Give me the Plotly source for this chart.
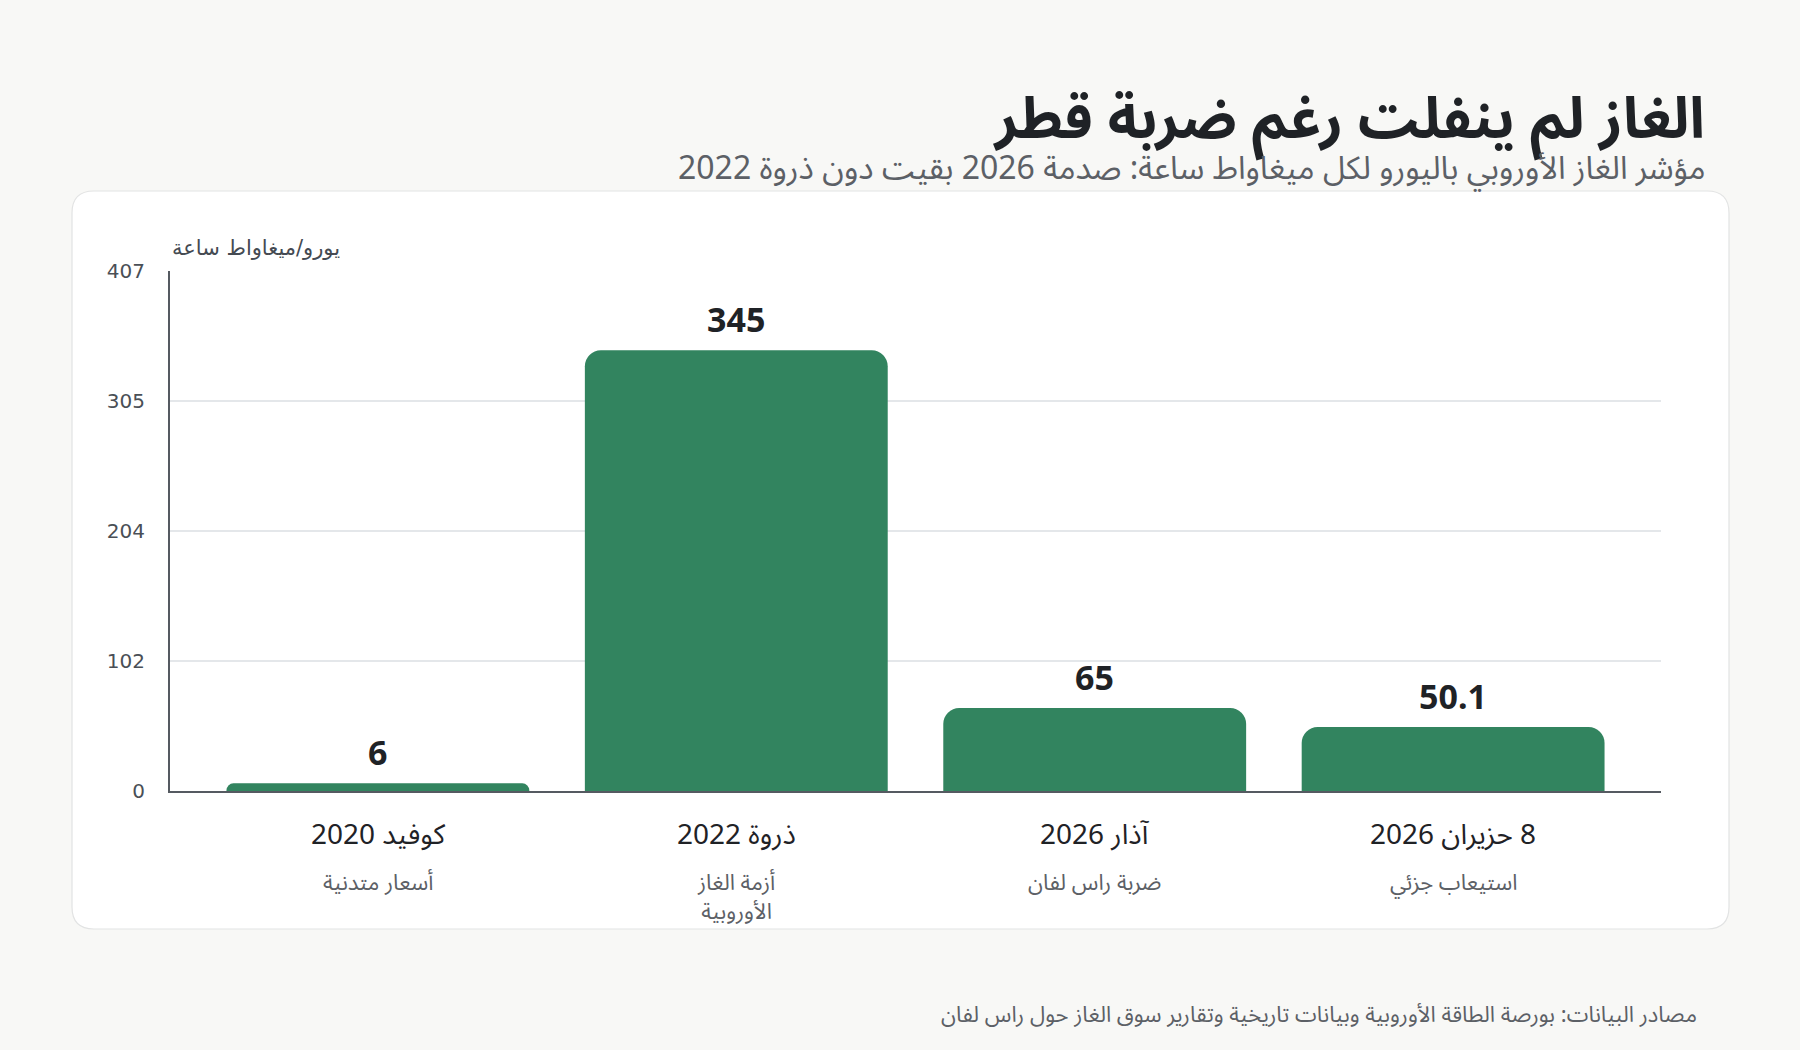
import plotly.graph_objects as go

# ---- data ----
categories = ["كوفيد 2020", "ذروة 2022", "آذار 2026", "\u200f8 حزيران 2026"]
sub_labels = ["أسعار متدنية", "أزمة الغاز<br>الأوروبية", "ضربة راس لفان", "استيعاب جزئي"]
values = [6, 345, 65, 50.1]
y_tickvals = [0, 101.75, 203.5, 305.25, 407]
y_ticktext = ["0", "102", "204", "305", "407"]
y_max = 407

title_text = "الغاز لم ينفلت رغم ضربة قطر"
subtitle_text = "مؤشر الغاز الأوروبي باليورو لكل ميغاواط ساعة: صدمة 2026 بقيت دون ذروة 2022"
y_title_text = "يورو/ميغاواط ساعة"
footer_text = "مصادر البيانات: بورصة الطاقة الأوروبية وبيانات تاريخية وتقارير سوق الغاز حول راس لفان"

# ---- layout geometry (pixels) ----
W, H = 1800, 1050
L, R, T, B = 170, 139, 271, 259
PW, PH = W - L - R, H - T - B

FONT = "Noto Sans Arabic, Noto Sans Arabic UI, Noto Sans, sans-serif"
DARK = "#1f2226"
GRAY = "#5c6066"
GREEN = "#32845f"
BG = "#f8f8f6"


def px_x(px):
    return (px - L) / PW


def px_y(py):
    return (H - B - py) / PH


fig = go.Figure()
fig.add_trace(go.Bar(
    x=categories,
    y=values,
    width=0.845,
    marker=dict(color=GREEN, line=dict(width=0)),
    hoverinfo="x+y",
))

annotations = []
# value labels
for c, v in zip(categories, values):
    annotations.append(dict(
        x=c, y=v, xref="x", yref="y", text=f"<b>{v:g}</b>", showarrow=False,
        yanchor="middle", yshift=31,
        font=dict(family="Noto Sans, sans-serif", size=34, color=DARK),
    ))
# category labels + sublabels
for c, s in zip(categories, sub_labels):
    annotations.append(dict(
        x=c, y=0, xref="x", yref="paper", text=c, showarrow=False,
        yanchor="middle", yshift=-44,
        font=dict(family=FONT, size=28, color=DARK),
    ))
    annotations.append(dict(
        x=c, y=0, xref="x", yref="paper", text=s, showarrow=False,
        yanchor="top", yshift=-67,
        font=dict(family=FONT, size=22, color=GRAY),
    ))
# titles
annotations += [
    dict(x=px_x(1707), y=px_y(120), xref="paper", yref="paper", text=f"<b>{title_text}</b>",
         showarrow=False, xanchor="right", yanchor="middle",
         font=dict(family=FONT, size=57, color=DARK)),
    dict(x=px_x(1708), y=px_y(169), xref="paper", yref="paper", text=subtitle_text,
         showarrow=False, xanchor="right", yanchor="middle",
         font=dict(family=FONT, size=32, color=GRAY)),
    dict(x=0, y=px_y(248), xref="paper", yref="paper", text=y_title_text,
         showarrow=False, xanchor="left", yanchor="middle",
         font=dict(family="DejaVu Sans", size=21, color="#444a52")),
    dict(x=px_x(1699), y=px_y(1015), xref="paper", yref="paper", text=footer_text,
         showarrow=False, xanchor="right", yanchor="middle",
         font=dict(family=FONT, size=22, color=GRAY)),
]

# rounded card behind the plot
cx0, cx1 = px_x(72), px_x(1729)
cy0, cy1 = px_y(929), px_y(191)
rx, ry = 22 / PW, 22 / PH
card_path = (
    f"M {cx0 + rx},{cy0} L {cx1 - rx},{cy0} Q {cx1},{cy0} {cx1},{cy0 + ry} "
    f"L {cx1},{cy1 - ry} Q {cx1},{cy1} {cx1 - rx},{cy1} "
    f"L {cx0 + rx},{cy1} Q {cx0},{cy1} {cx0},{cy1 - ry} "
    f"L {cx0},{cy0 + ry} Q {cx0},{cy0} {cx0 + rx},{cy0} Z"
)

fig.update_layout(
    width=W, height=H,
    margin=dict(l=L, r=R, t=T, b=B),
    paper_bgcolor=BG,
    plot_bgcolor="rgba(0,0,0,0)",
    showlegend=False,
    barcornerradius=16,
    font=dict(family=FONT, color=DARK),
    annotations=annotations,
    shapes=[dict(type="path", path=card_path, xref="paper", yref="paper",
                 fillcolor="white", line=dict(color="#e2e3e3", width=1.2), layer="below")],
    xaxis=dict(
        range=[-0.58, 3.58], showticklabels=False, ticks="", showgrid=False,
        showline=True, linecolor="#555a61", linewidth=2, zeroline=False, fixedrange=True,
    ),
    yaxis=dict(
        range=[0, y_max], tickvals=y_tickvals, ticktext=y_ticktext,
        showgrid=True, gridcolor="#e4e7ea", gridwidth=1.5,
        showline=True, linecolor="#555a61", linewidth=2, zeroline=False,
        ticks="", ticklabelstandoff=19,
        tickfont=dict(family="DejaVu Sans", size=20, color="#4a4f56"),
        fixedrange=True,
    ),
)

fig.write_html(
    "out.html",
    config={"displayModeBar": False},
    post_script=f"document.body.style.margin='0';document.body.style.background='{BG}';",
)
